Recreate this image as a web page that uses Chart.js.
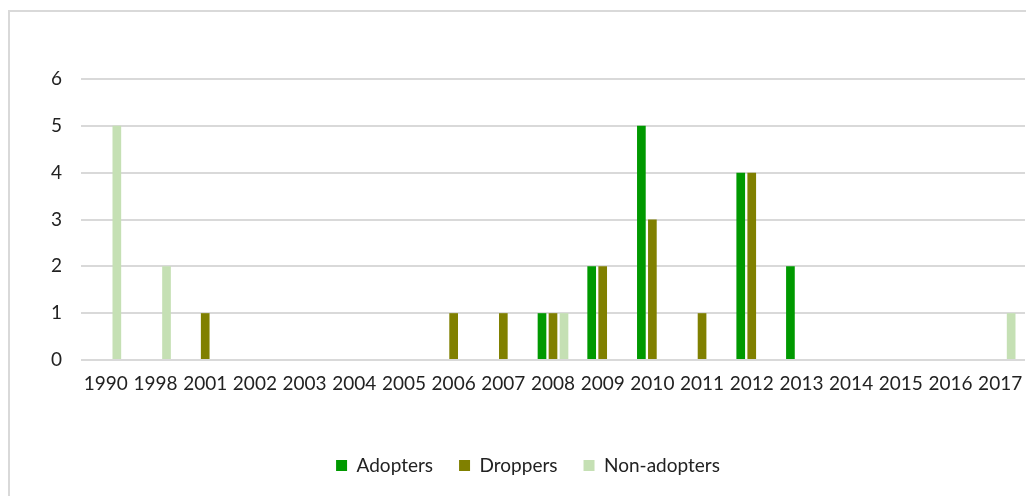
<!DOCTYPE html>
<html lang="en">
<head>
<meta charset="UTF-8">
<title>Adopters / Droppers / Non-adopters</title>
<script src="https://cdn.jsdelivr.net/npm/chart.js"></script>
<style>
  html, body { margin: 0; padding: 0; background: #fff; }
  .wrap { position: relative; width: 1026px; height: 496px; overflow: hidden; }
  .frame { position: absolute; left: 8px; top: 10px; width: 1040px; height: 500px;
           border-left: 2px solid #d9d9d9; border-top: 2px solid #d9d9d9; }
  canvas { position: absolute; left: 0; top: 0; }
</style>
</head>
<body>
<div class="wrap">
  <div class="frame"></div>
  <canvas id="chart" width="1026" height="496"></canvas>
</div>
<script>
// data
var years = ['1990','1998','2001','2002','2003','2004','2005','2006','2007','2008',
             '2009','2010','2011','2012','2013','2014','2015','2016','2017'];
var adopters    = [0,0,0,0,0,0,0,0,0,1,2,5,0,4,2,0,0,0,0];
var droppers    = [0,0,1,0,0,0,0,1,1,1,2,3,1,4,0,0,0,0,0];
var nonAdopters = [5,2,0,0,0,0,0,0,0,1,0,0,0,0,0,0,0,0,1];
var yTicks = [0,1,2,3,4,5,6];

Chart.defaults.font.family = 'Lato, "Open Sans", sans-serif';
Chart.defaults.font.size = 19;
Chart.defaults.color = '#222';

new Chart(document.getElementById('chart'), {
  type: 'bar',
  data: {
    labels: years,
    datasets: [
      { label: 'Adopters', data: adopters, backgroundColor: '#009900' },
      { label: 'Droppers', data: droppers, backgroundColor: '#808000' },
      { label: 'Non-adopters', data: nonAdopters, backgroundColor: '#c5e0b4' }
    ]
  },
  options: {
    responsive: false,
    animation: false,
    datasets: { bar: { categoryPercentage: 0.664, barPercentage: 0.79 } },
    layout: { padding: { left: 31, right: 1, top: 79, bottom: 11 } },
    plugins: {
      tooltip: { enabled: false },
      legend: {
        position: 'bottom',
        labels: { boxWidth: 11, boxHeight: 11, padding: 26 }
      }
    },
    scales: {
      x: {
        grid: { display: false, drawTicks: false },
        border: { display: false },
        ticks: { padding: 12, maxRotation: 0, autoSkip: false },
        afterFit: function (s) {
          s.height = 70;
          // labels sit inside their categories, no extra side padding
          s.paddingLeft = 0;
          s.paddingRight = 0;
        }
      },
      y: {
        min: yTicks[0],
        max: yTicks[yTicks.length - 1],
        grid: { color: '#d9d9d9', lineWidth: 2, drawTicks: false },
        border: { display: false },
        ticks: { stepSize: 1, padding: 19 },
        afterFit: function (s) { s.width = 50; }
      }
    }
  }
});
</script>
</body>
</html>
